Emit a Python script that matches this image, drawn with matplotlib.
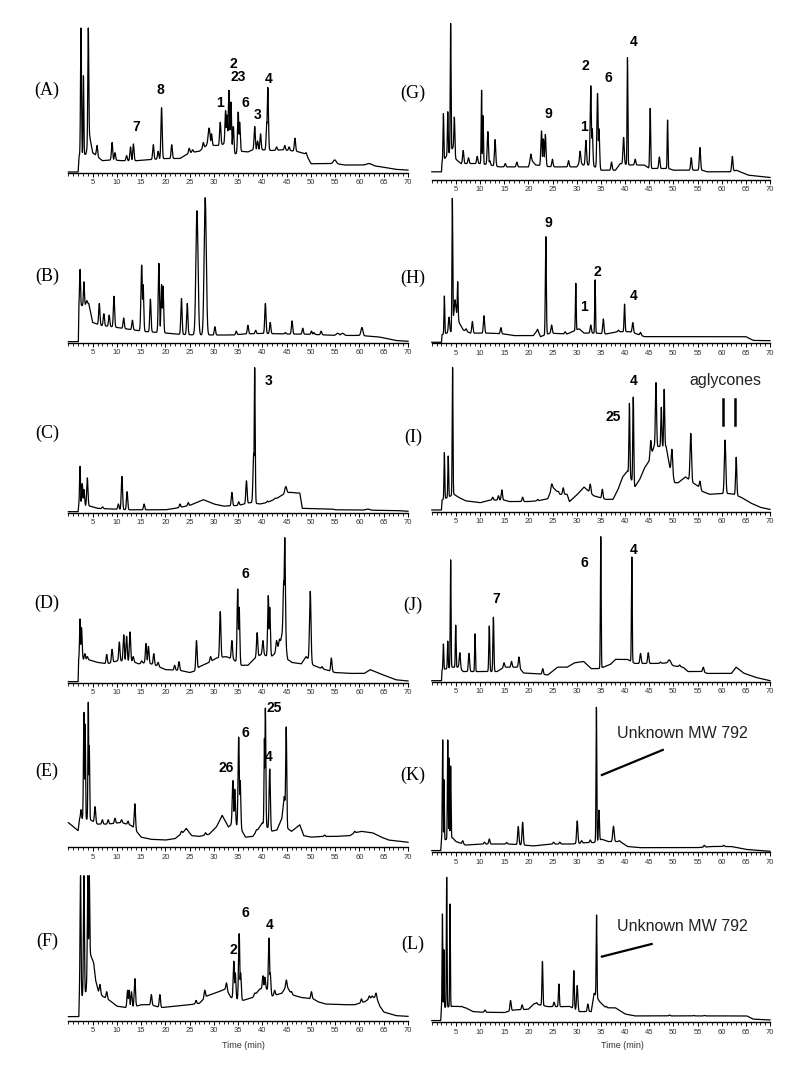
import numpy as np
import matplotlib.pyplot as plt
from matplotlib.ticker import MultipleLocator

# baseline knots (min, relative height) / peaks (min, top, [sigma]) / labels (text, min, height)
A_base = [(0, .007), (2.0, .007), (2.2, .12), (3.6, .13), (4.4, .25), (5.0, .14), (7, .085), (9, .09),
          (11, .085), (14, .085), (16, .09), (20, .1), (23, .1), (25, .14), (27, .15), (28.5, .19),
          (31, .19), (33, .21), (34.3, .13), (35.5, .15), (37, .145), (38, .16), (40, .16), (42, .155),
          (44, .16), (47, .15), (49, .13), (50, .064), (55, .065), (57, .055), (60, .055), (64, .045),
          (67.5, .025), (70, .02)]
A_peaks = [(2.6, 1.0, .1), (3.1, .67, .08), (4.1, 1.0, .1), (5.9, .19), (9.0, .21), (9.6, .14),
           (12.0, .12), (12.8, .18), (13.4, .2), (17.5, .195), (18.5, .15), (19.2, .45), (21.3, .195),
           (24.9, .17), (25.6, .16), (27.8, .21), (29.0, .31, .2), (29.5, .27), (31.3, .35), (32.4, .43),
           (32.7, .4), (33.1, .57), (33.5, .49), (34.0, .32), (35.0, .42), (35.3, .35), (38.4, .32),
           (39.0, .22), (39.6, .27), (40.9, .35), (41.1, .59), (42.9, .18), (44.6, .19), (45.5, .18),
           (46.7, .24), (49.0, .14), (54.9, .09, .3), (62.0, .065, .6)]
A_labels = [("7", 13.9, .32), ("8", 19.0, .575), ("1", 31.3, .48), ("2", 33.9, .75), ("23", 35.0, .66),
            ("6", 36.5, .48), ("3", 38.95, .40), ("4", 41.35, .65)]

B_base = [(0, .007), (2.05, .007), (2.15, .25), (4.2, .27), (5, .14), (6.5, .12), (9, .11), (11, .1),
          (13, .09), (16, .076), (19, .07), (22, .06), (25, .055), (30, .053), (34, .053), (36, .06),
          (40, .064), (45, .06), (50, .058), (55, .05), (60, .05), (62, .045), (64, .04), (67.5, .015),
          (70, .01)]
B_peaks = [(2.4, .505, .1), (3.2, .42, .1), (3.8, .29), (6.37, .27), (7.3, .2), (8.4, .19), (9.4, .32),
           (11.4, .17), (13.2, .155), (15.1, .535, .15), (15.4, .4), (16.9, .3), (18.65, .547),
           (19.2, .4), (19.5, .39), (23.3, .305), (24.5, .27), (26.5, .91, .22), (28.2, 1.0, .22),
           (30.2, .11), (34.6, .08), (37.0, .12), (38.6, .085), (40.6, .27), (41.6, .14), (44.7, .07),
           (46.1, .15), (48.3, .1), (50.1, .08), (50.6, .07), (52.1, .08), (55.5, .065, .3),
           (56.5, .065, .3), (60.5, .105, .2)]
B_labels = []

C_base = [(0, .007), (2.0, .007), (2.1, .05), (4.5, .045), (6, .03), (9, .025), (12.5, .02), (15, .02),
          (20, .02), (22, .03), (25, .05), (27.8, .09), (30, .06), (32, .045), (35, .05), (37.5, .07),
          (39.5, .06), (41, .07), (43, .1), (44, .12), (45.5, .14), (47.7, .135), (48.2, .03),
          (54.5, .025), (55, .02), (67.5, .015), (70, .01)]
C_peaks = [(2.4, .32, .1), (2.85, .2), (3.2, .16), (3.9, .24), (7.05, .04), (10.3, .06), (11.03, .25),
           (12.1, .145), (15.6, .06), (23.0, .06), (24.7, .07), (33.7, .14), (35.1, .075), (36.7, .22),
           (38.2, .41, .15), (38.4, 1.0, .1), (41.0, .08), (42.6, .1), (44.8, .18, .2), (46.0, .14),
           (61.7, .025, .4)]
C_labels = [("3", 41.35, .91)]

D_base = [(0, .007), (2.0, .007), (2.1, .16), (4, .16), (6, .14), (8, .13), (10, .15), (13, .15),
          (14.5, .13), (16, .14), (18, .12), (20, .09), (23, .085), (25, .07), (26, .08), (27, .11),
          (29, .14), (30.5, .17), (32.5, .18), (34, .16), (35.5, .12), (37, .12), (38.5, .17), (40, .2),
          (41.5, .17), (42.5, .2), (43.7, .28), (44.3, .38), (45.2, .16), (46, .14), (48, .13), (49, .18),
          (50.5, .12), (52, .1), (54, .08), (55, .07), (58, .064), (61, .064), (62.2, .09), (64, .065),
          (67.5, .02), (70, .012)]
D_peaks = [(2.4, .44, .1), (2.7, .38), (3.4, .2), (3.9, .18), (5.1, .15), (5.8, .14), (7.9, .195),
           (9.0, .23), (10.5, .28), (11.4, .33), (12.0, .32), (12.7, .35), (13.36, .18), (15.1, .15),
           (16.0, .27), (16.5, .25), (17.6, .2), (18.5, .14), (21.9, .12), (22.8, .145), (26.4, .29),
           (29.3, .18), (31.3, .49), (33.7, .29), (34.9, .646), (35.2, .52), (38.9, .345), (40.1, .29),
           (41.2, .6), (41.5, .52), (42.9, .29), (43.5, .3), (44.4, .7), (44.6, 1.0), (45.7, .15),
           (49.85, .63, .15), (52.3, .11), (54.2, .17), (62.2, .09, .5)]
D_labels = [("6", 36.5, .75)]

E_base = [(0, .17), (2.0, .115), (2.3, .2), (4.5, .19), (6, .16), (8, .16), (11, .17), (13, .15),
          (14.3, .1), (15, .07), (17, .055), (20, .05), (22, .06), (24.3, .12), (25.5, .08), (27, .075),
          (29, .09), (30.5, .14), (31.7, .22), (33, .14), (34, .17), (35.5, .13), (36.5, .07), (38, .075),
          (39, .12), (40, .17), (41.8, .11), (43, .12), (44, .2), (44.5, .35), (45.2, .13), (46, .11),
          (47.7, .155), (48.5, .08), (50, .07), (52, .075), (55, .075), (58, .08), (59, .1), (60.4, .11),
          (62.7, .1), (64.5, .07), (66, .05), (70, .035)]
E_peaks = [(2.6, .26, .1), (3.2, .93, .1), (3.45, .85, .08), (4.1, 1.0, .08), (4.3, .7, .08),
           (5.5, .28), (7.0, .19), (8.2, .19), (9.6, .2), (10.2, .17), (10.96, .19), (12.3, .18),
           (13.7, .3), (23.3, .11), (24.3, .13, .3), (28.25, .1), (31.7, .22, .35), (33.9, .46),
           (34.3, .4), (35.1, .76), (35.4, .46), (38.75, .12), (40.4, .75, .08), (40.6, .96, .1),
           (41.5, .54), (44.9, .83, .1), (47.7, .155), (52.8, .085), (59.0, .11), (60.4, .11),
           (62.7, .1, .5)]
E_labels = [("26", 32.6, .55), ("6", 36.5, .79), ("25", 42.5, .96), ("4", 41.35, .625)]

F_base = [(0, .028), (2.15, .028), (2.25, .15), (3.6, .2), (4.6, .45), (5.2, .4), (5.6, .28), (6.2, .2),
          (7, .17), (8.5, .14), (10, .1), (12, .09), (14, .1), (15, .11), (17, .11), (19, .09), (22, .1),
          (25, .11), (27, .12), (28.5, .17), (31, .2), (32.5, .22), (33.5, .16), (34.6, .15), (36, .14),
          (38, .16), (39.5, .22), (40.8, .22), (42, .17), (44, .19), (45, .24), (46, .18), (48, .16),
          (50.5, .15), (51.5, .13), (53, .115), (57, .11), (59, .11), (61, .13), (62.5, .16),
          (63.5, .16), (64.2, .1), (65, .06), (67.5, .035), (70, .03)]
F_peaks = [(2.5, 1.0, .1), (3.2, 1.0, .1), (4.0, 1.0, .1), (4.3, 1.0, .1), (6.5, .25), (7.9, .2),
           (12.2, .21), (12.5, .21), (13.0, .2), (13.7, .29), (17.1, .18), (18.85, .18), (26.3, .14),
           (28.1, .21), (32.6, .26), (34.1, .41), (34.4, .33), (35.2, .6), (35.5, .33), (38.4, .19),
           (40.1, .31), (40.5, .3), (41.35, .57), (41.6, .33), (42.5, .21), (44.9, .28), (46.0, .2),
           (50.1, .2), (60.4, .15), (62.0, .17), (62.6, .17), (63.4, .19)]
F_labels = [("2", 33.9, .49), ("6", 36.5, .74), ("4", 41.5, .66)]

G_base = [(0, .053), (2.0, .053), (2.1, .12), (4.4, .22), (5, .14), (6, .11), (10, .11), (12, .1),
          (14, .087), (20, .087), (20.5, .14), (21.5, .1), (24, .09), (25, .087), (30, .087),
          (30.7, .12), (31.3, .1), (33, .1), (35, .064), (38, .064), (39, .11), (41, .1), (44, .1),
          (45, .076), (49, .076), (50, .064), (56, .064), (57, .053), (62, .053), (63, .064),
          (65.5, .03), (70, .014)]
G_peaks = [(2.4, .455, .08), (3.3, .467, .08), (3.9, 1.076, .08), (4.67, .43, .1), (6.5, .2),
           (7.6, .15), (9.4, .16), (10.3, .616, .08), (10.6, .44, .08), (11.6, .33), (12.0, .13),
           (13.1, .275), (15.2, .11), (17.6, .12), (20.5, .175), (22.7, .335), (23.1, .28), (23.5, .31),
           (24.96, .14), (28.3, .13), (30.7, .195), (31.9, .27), (32.9, .646), (33.2, .35),
           (34.3, .593), (34.6, .35), (37.2, .12), (39.7, .29), (40.5, .84, .08), (42.1, .14),
           (45.2, .49, .1), (47.1, .155), (48.8, .41, .08), (53.7, .15), (55.5, .22), (62.2, .16)]
G_labels = [("9", 24.1, .455), ("1", 31.6, .363), ("2", 31.7, .784), ("6", 36.6, .70), ("4", 41.7, .95)]

H_base = [(0, .007), (2.0, .007), (2.1, .06), (4, .08), (4.8, .25), (5.7, .14), (6.5, .092), (8, .07),
          (12, .07), (15, .064), (17, .053), (21, .053), (21.9, .09), (22.5, .046), (24.5, .07),
          (28, .064), (30.5, .1), (31.5, .07), (34, .07), (36, .064), (38.5, .08), (41, .08),
          (42.5, .064), (44, .046), (65, .046), (66.5, .02), (70, .018)]
H_peaks = [(2.6, .326, .08), (3.56, .18), (4.25, 1.0, .08), (4.8, .3), (5.36, .425, .08), (7.1, .1),
           (8.4, .15), (10.8, .19), (14.3, .108), (21.9, .097), (23.6, .735, .1), (24.8, .126),
           (27.6, .08), (29.8, .414, .08), (32.9, .126), (33.8, .437, .08), (35.5, .168), (38.6, .09),
           (39.9, .27, .1), (41.6, .143), (43.2, .075)]
H_labels = [("9", 24.1, .83), ("1", 31.6, .25), ("2", 34.35, .494), ("4", 41.7, .326)]

I_base = [(0, .012), (2.0, .012), (2.1, .08), (4.6, .12), (5.5, .1), (7, .075), (10, .062), (12, .08),
          (15, .08), (16, .07), (20, .07), (22, .075), (24, .09), (25, .17), (26.5, .12), (28, .12),
          (28.5, .07), (30, .115), (31.5, .17), (33.5, .11), (35, .095), (36, .085), (37.5, .085),
          (38.5, .15), (39.5, .24), (40.5, .28), (42, .17), (43, .22), (44, .3), (45, .35), (46, .45),
          (47, .45), (48.5, .45), (49.3, .3), (50.3, .2), (51, .2), (52.5, .24), (54, .2), (55, .18),
          (56, .14), (57.5, .12), (59.5, .125), (61.5, .125), (62.5, .12), (64, .1), (66, .06),
          (68, .03), (70, .016)]
I_peaks = [(2.6, .407, .08), (3.4, .384, .08), (4.3, .995, .08), (12.6, .1), (13.8, .11), (14.5, .15),
           (18.8, .1), (21.9, .085), (24.8, .19), (26.2, .14), (27.2, .165), (32.8, .19), (35.3, .155),
           (40.9, .747, .1), (41.7, .79, .1), (45.3, .49), (46.4, .89, .12), (47.5, .72, .1),
           (48.1, .844, .1), (49.7, .43, .15), (53.6, .54, .15), (55.5, .21), (60.7, .494, .15),
           (63.0, .375, .12)]
I_labels = [("25", 37.6, .65), ("4", 41.7, .90)]

J_base = [(0, .007), (2.0, .007), (2.1, .08), (4, .1), (5.5, .1), (6.5, .07), (10, .07), (13.5, .07),
          (15, .1), (18, .1), (19, .06), (22, .055), (24, .046), (26, .1), (28, .1), (29.5, .13),
          (31.4, .14), (33, .09), (34.5, .09), (35.5, .1), (37, .12), (38, .154), (40.5, .154),
          (42, .126), (47, .126), (49, .13), (50, .11), (52, .1), (53, .07), (56, .07), (57, .057),
          (62, .057), (63, .1), (64.5, .06), (67, .03), (70, .007)]
J_peaks = [(2.4, .26, .08), (3.3, .28, .08), (3.9, .84, .08), (4.95, .39, .08), (5.8, .2), (7.7, .195),
           (8.95, .33, .08), (11.9, .384, .1), (12.75, .444, .1), (14.95, .13), (16.5, .14),
           (18.05, .17), (22.96, .09), (26.4, .1), (34.97, 1.0, .08), (41.4, .86, .08), (43.2, .195),
           (44.8, .2), (47.3, .135), (49.2, .15, .25), (51.3, .115), (56.2, .1)]
J_labels = [("7", 13.4, .57), ("6", 31.6, .82), ("4", 41.7, .91)]

K_base = [(0, .012), (1.85, .012), (2.0, .08), (4.3, .1), (5, .074), (7, .05), (10, .057), (16, .057),
          (19, .05), (21, .044), (25, .057), (29, .057), (32, .067), (33.5, .067), (35.2, .09),
          (36.5, .074), (39, .074), (40.5, .04), (43, .032), (55, .032), (58, .04), (62, .04),
          (65, .02), (70, .007)]
K_peaks = [(2.25, .775, .08), (2.55, .5, .06), (3.3, .775, .08), (3.6, .65, .06), (3.9, .595, .08),
           (6.4, .08), (10.9, .07), (11.9, .092), (15.5, .067), (17.9, .177), (18.8, .207), (25.2, .07),
           (26.5, .07), (30.1, .216), (31.0, .08), (32.8, .085), (34.07, 1.0, .08), (34.6, .29, .1),
           (37.6, .18, .15), (38.8, .08), (56.4, .048), (60.4, .048)]
K_labels = []

L_base = [(0, .012), (1.85, .012), (2.0, .1), (4.2, .11), (5.5, .11), (7, .1), (8.5, .074), (10, .07),
          (15, .067), (17, .085), (20, .09), (21.2, .13), (22.3, .12), (24, .108), (27, .108),
          (28.5, .11), (30.5, .074), (33, .074), (33.6, .2), (34.8, .14), (36, .1), (38, .1),
          (40, .057), (42, .044), (65.2, .044), (66.5, .022), (70, .016)]
L_peaks = [(2.2, .747, .07), (2.5, .5, .06), (3.08, 1.0, .07), (3.77, .816, .07), (6.2, .11),
           (11.0, .085), (16.3, .15), (18.7, .12), (21.7, .135), (22.9, .42, .1), (25.3, .138),
           (26.3, .264, .1), (29.4, .356, .1), (30.1, .253), (32.3, .126), (34.1, .74, .08),
           (36.1, .11), (37.6, .1), (49.2, .05), (54.2, .047), (56.4, .047)]
L_labels = []

unknown_text = "Unknown MW 792"
K_note = (51.9, .786, (35.2, .533), (47.8, .706))
L_note = (51.9, .63, (35.2, .453), (45.5, .54))
aglycone_marks = [60.2, 62.8]

T = np.linspace(0, 70, 7001)


def trace(base, peaks):
    bt = [b[0] for b in base]
    by = [b[1] for b in base]
    y0 = np.interp(T, bt, by)
    env = np.zeros_like(T)
    for p in peaks:
        tc, top = p[0], p[1]
        s = p[2] if len(p) > 2 else 0.13
        amp = top - np.interp(tc, bt, by)
        env = np.maximum(env, amp * np.exp(-0.5 * ((T - tc) / s) ** 2))
    return y0 + env


W, H = 800, 1074
fig = plt.figure(figsize=(W / 100, H / 100), dpi=100)
LEFT = (68.4, 408.0, 47)
RIGHT = (431.8, 770.0, 413)

panels = [
    ("A", A_base, A_peaks, A_labels, LEFT, 173.0, 90),
    ("B", B_base, B_peaks, B_labels, LEFT, 342.7, 276),
    ("C", C_base, C_peaks, C_labels, LEFT, 512.7, 433),
    ("D", D_base, D_peaks, D_labels, LEFT, 682.7, 603),
    ("E", E_base, E_peaks, E_labels, LEFT, 847.3, 771),
    ("F", F_base, F_peaks, F_labels, LEFT, 1020.7, 941),
    ("G", G_base, G_peaks, G_labels, RIGHT, 179.5, 93),
    ("H", H_base, H_peaks, H_labels, RIGHT, 343.3, 278),
    ("I", I_base, I_peaks, I_labels, RIGHT, 511.7, 437),
    ("J", J_base, J_peaks, J_labels, RIGHT, 681.7, 605),
    ("K", K_base, K_peaks, K_labels, RIGHT, 852.3, 775),
    ("L", L_base, L_peaks, L_labels, RIGHT, 1022.3, 944),
]

axes = {}
for name, base, peaks, labels, col, yax, ylab in panels:
    x0, x1, xl = col
    ax = fig.add_axes([x0 / W, 1 - yax / H, (x1 - x0) / W, 145 / H])
    ax.patch.set_visible(False)
    ax.plot(T, trace(base, peaks), color="black", lw=0.9, clip_on=False)
    ax.set_xlim(0, 70)
    ax.set_ylim(0, 1)
    for s in ["top", "right", "left"]:
        ax.spines[s].set_visible(False)
    ax.spines["bottom"].set_linewidth(1.0)
    ax.set_yticks([])
    ax.set_xticks(range(5, 71, 5))
    ax.xaxis.set_minor_locator(MultipleLocator(1))
    ax.tick_params(axis="x", which="major", length=3, width=0.7, labelsize=5.5, pad=1.5,
                   labelcolor="#333333")
    ax.tick_params(axis="x", which="minor", length=2, width=0.6)
    for lab in ax.get_xticklabels():
        lab.set_family("Liberation Sans")
    for txt, t, y in labels:
        ax.text(t, y, txt, ha="center", va="center", fontsize=10, fontweight="bold",
                family="Liberation Sans")
    fig.text(xl / W, 1 - ylab / H, "(%s)" % name, ha="center", va="center", fontsize=13,
             family="Liberation Serif")
    axes[name] = ax

# annotations
ax = axes["I"]
ax.text(60.7, .874, "aglycones", ha="center", va="baseline", fontsize=11.5, color="#222222",
        family="Liberation Sans")
for t in aglycone_marks:
    ax.plot([t, t], [.60, .78], color="black", lw=1.8)

for name, note in [("K", K_note), ("L", L_note)]:
    tx, ty, p0, p1 = note
    axes[name].text(tx, ty, unknown_text, ha="center", va="baseline", fontsize=11.5,
                    color="#222222", family="Liberation Sans")
    axes[name].plot([p0[0], p1[0]], [p0[1], p1[1]], color="black", lw=1.6)

fig.text(243 / W, 1 - 1045.7 / H, "Time (min)", ha="center", va="center", fontsize=6.5,
         family="Liberation Sans", color="#333333")
fig.text(622 / W, 1 - 1045.7 / H, "Time (min)", ha="center", va="center", fontsize=6.5,
         family="Liberation Sans", color="#333333")

fig.savefig("out.png", dpi=100)
plt.close(fig)
